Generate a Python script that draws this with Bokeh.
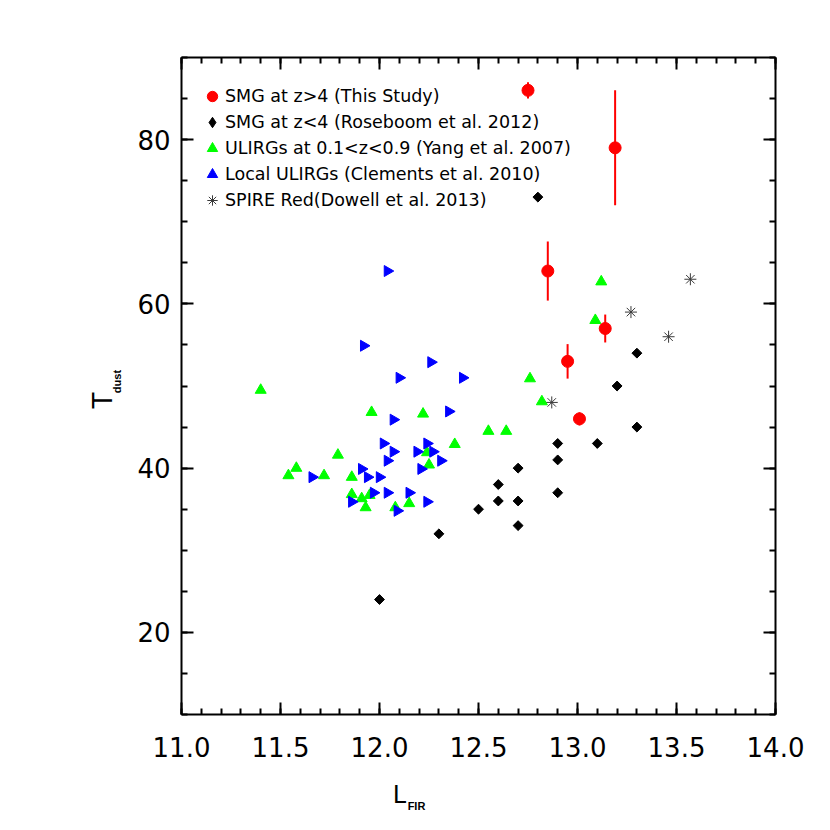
import numpy as np
from bokeh.plotting import figure
from bokeh.models import (ColumnDataSource, Range1d, LinearAxis, FixedTicker,
                          Legend, LegendItem, NumeralTickFormatter,
                          CustomJSTickFormatter)
from bokeh.embed import file_html
from bokeh.resources import INLINE

# ---------------- data ----------------
# SMG at z>4 (This Study) with Tdust errors
smg_hi_L = [12.75, 13.19, 12.85, 12.95, 13.01, 13.14]
smg_hi_T = [86.0, 79.0, 64.0, 53.0, 46.0, 57.0]
smg_hi_err = [1.0, 7.0, 3.6, 2.1, 0.8, 1.7]

# SMG at z<4 (Roseboom et al. 2012)
smg_lo_L = [12.0, 12.3, 12.5, 12.6, 12.6, 12.7, 12.7, 12.7, 12.9, 12.9,
            12.9, 13.1, 13.2, 13.3, 13.3, 12.8]
smg_lo_T = [24.0, 32.0, 35.0, 38.0, 36.0, 40.0, 36.0, 33.0, 43.0, 41.0,
            37.0, 43.0, 50.0, 54.0, 45.0, 73.0]

# ULIRGs at 0.1<z<0.9 (Yang et al. 2007)
ulirg_L = [11.40, 11.54, 11.58, 11.72, 11.79, 11.86, 11.86, 11.91, 11.93, 11.95,
           11.96, 12.08, 12.15, 12.22, 12.24, 12.25, 12.38, 12.55, 12.64, 12.76,
           12.82, 13.09, 13.12]
ulirg_T = [49.5, 39.1, 40.0, 39.1, 41.6, 38.9, 36.8, 36.3, 35.2, 36.7,
           46.8, 35.2, 35.7, 46.6, 41.9, 40.4, 42.9, 44.5, 44.5, 50.9,
           48.1, 58.0, 62.7]

# Local ULIRGs (Clements et al. 2010)
local_L = [12.04, 11.92, 12.26, 12.10, 12.42, 12.35, 12.07, 12.02, 12.24, 12.07,
           12.19, 12.27, 12.04, 12.31, 12.21, 11.91, 11.66, 11.94, 12.00, 11.97,
           12.04, 12.15, 11.86, 12.24, 12.09]
local_T = [64.0, 54.9, 52.9, 51.0, 51.0, 46.9, 45.9, 43.0, 43.0, 42.0,
           42.0, 42.0, 40.9, 40.9, 39.9, 39.9, 38.9, 38.9, 38.9, 37.0,
           37.0, 37.0, 35.9, 35.9, 34.8]

# SPIRE Red (Dowell et al. 2013)
spire_L = [12.87, 13.27, 13.46, 13.57]
spire_T = [48.0, 59.0, 56.0, 63.0]

legend_labels = ["SMG at z>4 (This Study)",
                 "SMG at z<4 (Roseboom et al. 2012)",
                 "ULIRGs at 0.1<z<0.9 (Yang et al. 2007)",
                 "Local ULIRGs (Clements et al. 2010)",
                 "SPIRE Red(Dowell et al. 2013)"]

x_major = [11.0, 11.5, 12.0, 12.5, 13.0, 13.5, 14.0]
y_major = [20, 40, 60, 80]

# ---------------- figure ----------------
X0, X1, Y0, Y1 = 11.0, 14.0, 10.0, 90.0
FW, FH = 594, 657
BL, BT, BR, BB = 181, 57, 55, 116

p = figure(frame_width=FW, frame_height=FH, output_backend="svg",
           toolbar_location=None, x_range=Range1d(X0, X1), y_range=Range1d(Y0, Y1),
           min_border_left=BL, min_border_top=BT, min_border_right=BR,
           min_border_bottom=BB)
p.xgrid.visible = False
p.ygrid.visible = False
p.outline_line_color = None
p.background_fill_color = "white"
p.border_fill_color = "white"

x_minor = [round(v, 2) for v in np.arange(X0, X1 + 1e-9, 0.1)]
y_minor = list(range(10, 95, 5))

FONT = "DejaVu Sans"
SUBFONT = "Liberation Sans"

def style(ax, labels=True):
    ax.axis_line_width = 2
    ax.axis_line_color = "black"
    ax.major_tick_in = 12
    ax.major_tick_out = 0
    ax.minor_tick_in = 6
    ax.minor_tick_out = 0
    ax.major_tick_line_width = 2
    ax.minor_tick_line_width = 2
    ax.major_label_text_font = FONT
    ax.major_label_text_font_size = "26px"
    ax.major_label_text_color = "black"
    if not labels:
        ax.formatter = CustomJSTickFormatter(code="return ''")
        ax.major_label_standoff = 0

xb = p.xaxis[0]
xb.ticker = FixedTicker(ticks=x_major, minor_ticks=x_minor)
xb.formatter = NumeralTickFormatter(format="0.0")
style(xb)
xb.major_label_standoff = 22

yl = p.yaxis[0]
yl.ticker = FixedTicker(ticks=y_major, minor_ticks=y_minor)
style(yl)
yl.major_label_standoff = 11

xt = LinearAxis(ticker=FixedTicker(ticks=x_major, minor_ticks=x_minor))
style(xt, labels=False)
p.add_layout(xt, "above")
yr = LinearAxis(ticker=FixedTicker(ticks=y_major, minor_ticks=y_minor))
style(yr, labels=False)
p.add_layout(yr, "right")

# ---------------- glyphs ----------------
err_src = ColumnDataSource(dict(
    x=smg_hi_L,
    lo=[t - e for t, e in zip(smg_hi_T, smg_hi_err)],
    hi=[t + e for t, e in zip(smg_hi_T, smg_hi_err)]))
p.segment(x0="x", y0="lo", x1="x", y1="hi", source=err_src,
          line_color="red", line_width=2)

r_spire = p.scatter(spire_L, spire_T, marker="asterisk", size=12,
                    line_color="#3a3a3a", line_width=1)
r_ulirg = p.scatter(ulirg_L, ulirg_T, marker="triangle", size=11,
                    fill_color="#00ff00", line_color="#00ff00")
r_local = p.scatter(local_L, local_T, marker="triangle", size=11, angle=-np.pi / 2,
                    fill_color="#0000ff", line_color="#0000ff")
# diamond-shaped key for the legend (legend glyphs are never rotated);
# drawn under the rotated squares, which cover it completely
r_lo_key = p.scatter(smg_lo_L, smg_lo_T, marker="diamond", size=8,
                     fill_color="black", line_color="black")
r_lo = p.scatter(smg_lo_L, smg_lo_T, marker="square", size=7, angle=np.pi / 4,
                 fill_color="black", line_color="black")
r_hi = p.scatter(smg_hi_L, smg_hi_T, marker="circle", size=12,
                 fill_color="red", line_color="red")

legend = Legend(items=[LegendItem(label=legend_labels[0], renderers=[r_hi]),
                       LegendItem(label=legend_labels[1], renderers=[r_lo_key]),
                       LegendItem(label=legend_labels[2], renderers=[r_ulirg]),
                       LegendItem(label=legend_labels[3], renderers=[r_local]),
                       LegendItem(label=legend_labels[4], renderers=[r_spire])],
                location=(18, 501), padding=0, margin=0,
                glyph_width=26, glyph_height=26, label_height=26, spacing=-2,
                label_standoff=-4, label_text_font=FONT,
                label_text_font_size="17.5px", label_text_color="black",
                border_line_color=None, background_fill_alpha=0)
p.add_layout(legend, "center")

# ---------------- axis titles (as single-tick label-only axes) ----------------
def px2x(px):
    return X0 + (px - BL) * (X1 - X0) / FW

def px2y(py):
    return Y0 + ((BT + FH) - py) * (Y1 - Y0) / FH

def title_axis(pos, text, font, size, bold, standoff, vertical=False):
    ax = LinearAxis(ticker=FixedTicker(ticks=[pos], minor_ticks=[]),
                    formatter=CustomJSTickFormatter(code="return '%s'" % text))
    ax.axis_line_color = None
    ax.major_tick_line_color = None
    ax.minor_tick_line_color = None
    ax.major_tick_in = 0
    ax.major_tick_out = 0
    ax.minor_tick_in = 0
    ax.minor_tick_out = 0
    ax.major_label_text_font = font
    ax.major_label_text_font_size = size
    ax.major_label_text_font_style = "bold" if bold else "normal"
    ax.major_label_text_color = "black"
    ax.major_label_standoff = standoff
    if vertical:
        ax.major_label_orientation = "vertical"
    return ax

p.add_layout(title_axis(px2x(399), "L", FONT, "24px", False, 21), "below")
p.add_layout(title_axis(px2x(416), "FIR", SUBFONT, "11px", True, -12), "below")
p.add_layout(title_axis(px2y(381), "dust", SUBFONT, "11px", True, 12, vertical=True), "left")
p.add_layout(title_axis(px2y(400), "T", FONT, "26px", False, -10, vertical=True), "left")

open("out.html", "w").write(file_html(p, INLINE))
